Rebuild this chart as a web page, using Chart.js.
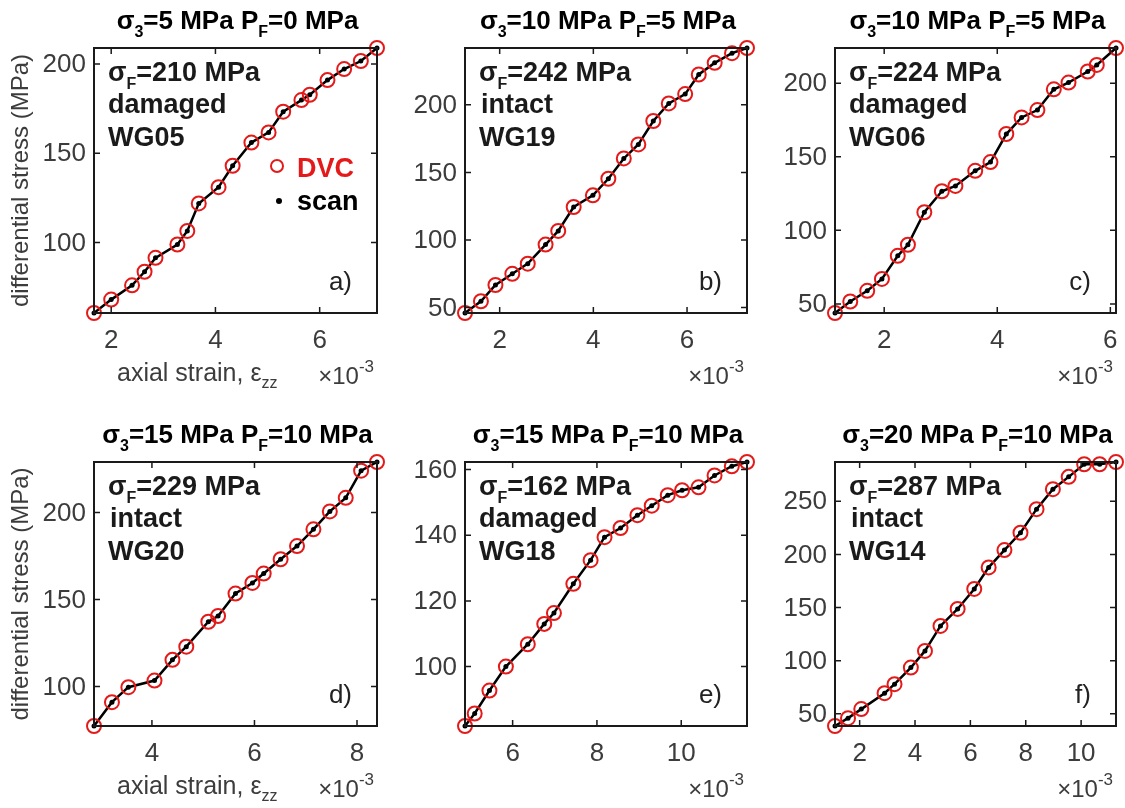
<!DOCTYPE html>
<html>
<head>
<meta charset="utf-8">
<script src="https://cdn.jsdelivr.net/npm/chart.js@4.4.1/dist/chart.umd.min.js"></script>
<style>
body{margin:0;background:#fff;}
#wrap{position:relative;width:1125px;height:808px;}
#wrap canvas{position:absolute;left:0;top:0;}
</style>
</head>
<body>
<div id="wrap"></div>
<script>
// ---- data (strain in 1e-3, stress in MPa) ----
const strainA = [1.67, 2.00, 2.40, 2.64, 2.85, 3.27, 3.46, 3.68, 4.06, 4.33, 4.69, 5.02, 5.30, 5.65, 5.81, 6.15, 6.47, 6.79, 7.10];
const stressA = [60.5, 68, 76, 83.6, 91.4, 98.9, 106.5, 121.9, 131, 143, 156, 161.7, 173.3, 179.8, 182.8, 191, 197.2, 201.7, 209];
const strainB = [1.26, 1.60, 1.91, 2.27, 2.60, 2.98, 3.25, 3.58, 3.99, 4.32, 4.65, 4.96, 5.28, 5.61, 5.96, 6.25, 6.59, 6.96, 7.28];
const stressB = [46, 54.7, 66.7, 75, 82.5, 96.6, 106.7, 124.4, 133, 145.3, 160.3, 170.7, 188, 201, 207.9, 222.4, 231, 238.2, 242];
const strainC = [1.13, 1.40, 1.70, 1.96, 2.24, 2.42, 2.71, 3.02, 3.26, 3.61, 3.88, 4.16, 4.43, 4.71, 5.00, 5.26, 5.60, 5.76, 6.10];
const stressC = [43.8, 51.6, 58.9, 67, 82.7, 90.2, 112.3, 126.6, 130.2, 140.5, 146.4, 165.5, 176.8, 181.8, 195.9, 200.5, 208, 212.5, 224];
const strainD = [2.87, 3.22, 3.54, 4.05, 4.40, 4.67, 5.10, 5.29, 5.63, 5.96, 6.18, 6.51, 6.83, 7.15, 7.47, 7.78, 8.08, 8.39];
const stressD = [77.3, 91, 99.6, 103.4, 115.3, 122.9, 137.2, 140.5, 153.4, 159.5, 164.9, 173.1, 180.7, 190.3, 200.6, 208.4, 224, 229];
const strainE = [4.87, 5.10, 5.45, 5.84, 6.36, 6.75, 6.98, 7.44, 7.85, 8.18, 8.56, 8.96, 9.30, 9.68, 10.02, 10.41, 10.79, 11.20, 11.56];
const stressE = [81.9, 85.7, 92.7, 100, 106.8, 113, 116.3, 125.2, 132.4, 139.4, 142.2, 146.1, 149, 152.2, 153.7, 154.6, 158.2, 161, 162.3];
const strainF = [1.11, 1.58, 2.06, 2.90, 3.26, 3.85, 4.36, 4.92, 5.54, 6.14, 6.66, 7.23, 7.81, 8.39, 8.98, 9.55, 10.11, 10.67, 11.26];
const stressF = [38.5, 45.9, 54.4, 69.4, 77.9, 93.5, 109.2, 132.7, 148.7, 167.5, 187.8, 204.1, 220.4, 242.6, 261.4, 273, 284.9, 284.9, 287];

// tick labels
const xTicksA = [2, 4, 6], yTicksA = [100, 150, 200];
const xTicksB = [2, 4, 6], yTicksB = [50, 100, 150, 200];
const xTicksC = [2, 4, 6], yTicksC = [50, 100, 150, 200];
const xTicksD = [4, 6, 8], yTicksD = [100, 150, 200];
const xTicksE = [6, 8, 10], yTicksE = [100, 120, 140, 160];
const xTicksF = [2, 4, 6, 8, 10], yTicksF = [50, 100, 150, 200, 250];

// panel text
const sigma3 = [5, 10, 10, 15, 15, 20];
const poreP = [0, 5, 5, 10, 10, 10];
const sigmaF = [210, 242, 224, 229, 162, 287];
const state = ['damaged', 'intact', 'damaged', 'intact', 'damaged', 'intact'];
const sample = ['WG05', 'WG19', 'WG06', 'WG20', 'WG18', 'WG14'];
const letters = ['a)', 'b)', 'c)', 'd)', 'e)', 'f)'];

const strains = [strainA, strainB, strainC, strainD, strainE, strainF];
const stresses = [stressA, stressB, stressC, stressD, stressE, stressF];
const xTicks = [xTicksA, xTicksB, xTicksC, xTicksD, xTicksE, xTicksF];
const yTicks = [yTicksA, yTicksB, yTicksC, yTicksD, yTicksE, yTicksF];

// ---- layout ----
const W = 1125, H = 808;
const colL = [94, 465, 835], colR = [377, 747, 1117];
const rowT = [48, 462], rowB = [313, 726];
const FAM = '"Liberation Sans", Arial, Helvetica, sans-serif';
const RED = '#e41a1a';
const GREY = '#3c3c3c';

function rich(ctx, parts, x, y, align) {
  let w = 0;
  parts.forEach(p => { ctx.font = p[1]; w += ctx.measureText(p[0]).width; });
  let cx = align === 'center' ? x - w / 2 : align === 'right' ? x - w : x;
  ctx.textAlign = 'left';
  ctx.textBaseline = 'alphabetic';
  parts.forEach(p => {
    ctx.font = p[1];
    ctx.fillText(p[0], cx, y + (p[2] || 0));
    cx += ctx.measureText(p[0]).width;
  });
}

const decor = {
  id: 'decor',
  afterDatasetsDraw(chart, args, o) {
    const ctx = chart.ctx, a = chart.chartArea;
    const xs = chart.scales.x, ys = chart.scales.y;
    const i = o.i, col = i % 3;
    ctx.save();
    // box + inward ticks
    ctx.strokeStyle = '#1a1a1a';
    ctx.lineWidth = 2;
    ctx.strokeRect(a.left, a.top, a.right - a.left, a.bottom - a.top);
    ctx.lineWidth = 1.5;
    const tl = 6;
    ctx.beginPath();
    xTicks[i].forEach(v => {
      const px = xs.getPixelForValue(v);
      ctx.moveTo(px, a.bottom); ctx.lineTo(px, a.bottom - tl);
      ctx.moveTo(px, a.top); ctx.lineTo(px, a.top + tl);
    });
    yTicks[i].forEach(v => {
      const py = ys.getPixelForValue(v);
      ctx.moveTo(a.left, py); ctx.lineTo(a.left + tl, py);
      ctx.moveTo(a.right, py); ctx.lineTo(a.right - tl, py);
    });
    ctx.stroke();

    // tick labels
    ctx.fillStyle = GREY;
    ctx.font = '26px ' + FAM;
    ctx.textAlign = 'center';
    ctx.textBaseline = 'alphabetic';
    xTicks[i].forEach(v => ctx.fillText(String(v), xs.getPixelForValue(v), a.bottom + 35));
    ctx.textAlign = 'right';
    ctx.textBaseline = 'middle';
    yTicks[i].forEach(v => ctx.fillText(String(v), a.left - 8, ys.getPixelForValue(v) + 1));

    // x10^-3
    rich(ctx, [['\u00d710', '24px ' + FAM], ['-3', '17px ' + FAM, -12]], a.right - 3, a.bottom + 71, 'right');

    if (col === 0) {
      rich(ctx, [['axial strain, \u03b5', '25px ' + FAM], ['zz', '16px ' + FAM, 7]], a.left + 23, a.bottom + 68, 'left');
      ctx.save();
      ctx.translate(28, (a.top + a.bottom) / 2);
      ctx.rotate(-Math.PI / 2);
      ctx.font = '24px ' + FAM;
      ctx.textAlign = 'center';
      ctx.textBaseline = 'alphabetic';
      ctx.fillText('differential stress (MPa)', 0, 0);
      ctx.restore();
    }

    // title
    ctx.fillStyle = '#000';
    const B = 'bold 26px ' + FAM, Bs = 'bold 16px ' + FAM;
    rich(ctx, [['\u03c3', B], ['3', Bs, 8], ['=' + sigma3[i] + ' MPa P', B], ['F', Bs, 8], ['=' + poreP[i] + ' MPa', B]],
      (a.left + a.right) / 2 + 2, a.top - 19, 'center');

    // annotation
    ctx.fillStyle = '#1a1a1a';
    const A = 'bold 27px ' + FAM, As = 'bold 16px ' + FAM;
    const ax = a.left + 14;
    rich(ctx, [['\u03c3', A], ['F', As, 8], ['=' + sigmaF[i] + ' MPa', A]], ax, a.top + 33, 'left');
    rich(ctx, [[state[i], A]], ax + (state[i] === 'intact' ? 2 : 0), a.top + 65, 'left');
    rich(ctx, [[sample[i], A]], ax, a.top + 98, 'left');

    // panel letter
    ctx.fillStyle = '#222';
    rich(ctx, [[letters[i], '26px ' + FAM]], a.right - 25, a.bottom - 23, 'right');

    // legend in panel a
    if (i === 0) {
      ctx.strokeStyle = RED;
      ctx.lineWidth = 2;
      ctx.beginPath();
      ctx.arc(277, 166, 6, 0, Math.PI * 2);
      ctx.stroke();
      ctx.fillStyle = RED;
      rich(ctx, [['DVC', 'bold 27px ' + FAM]], 297, 177, 'left');
      ctx.fillStyle = '#000';
      ctx.beginPath();
      ctx.arc(279, 201, 3, 0, Math.PI * 2);
      ctx.fill();
      rich(ctx, [['scan', 'bold 27px ' + FAM]], 297, 210, 'left');
    }
    ctx.restore();
  }
};

const wrap = document.getElementById('wrap');
for (let i = 0; i < 6; i++) {
  const col = i % 3, row = Math.floor(i / 3);
  const cv = document.createElement('canvas');
  cv.width = W; cv.height = H;
  wrap.appendChild(cv);
  const sx = strains[i], sy = stresses[i];
  const pts = sx.map((v, k) => ({ x: v, y: sy[k] }));
  new Chart(cv, {
    type: 'scatter',
    data: {
      datasets: [
        {
          label: 'DVC',
          data: pts,
          showLine: false,
          pointStyle: 'circle',
          pointRadius: 7,
          pointBorderWidth: 2,
          pointBorderColor: RED,
          pointBackgroundColor: 'rgba(0,0,0,0)',
          clip: false
        },
        {
          label: 'scan',
          data: pts,
          showLine: true,
          borderColor: '#000',
          borderWidth: 2.5,
          pointRadius: 2.5,
          pointBorderWidth: 0,
          pointBackgroundColor: '#000',
          clip: false
        }
      ]
    },
    options: {
      responsive: false,
      animation: false,
      devicePixelRatio: 1,
      events: [],
      layout: { padding: { left: colL[col], top: rowT[row], right: W - colR[col], bottom: H - rowB[row] } },
      scales: {
        x: { type: 'linear', display: false, min: sx[0], max: sx[sx.length - 1] },
        y: { type: 'linear', display: false, min: sy[0], max: sy[sy.length - 1] }
      },
      plugins: { legend: { display: false }, tooltip: { enabled: false }, decor: { i: i } }
    },
    plugins: [decor]
  });
}
</script>
</body>
</html>
